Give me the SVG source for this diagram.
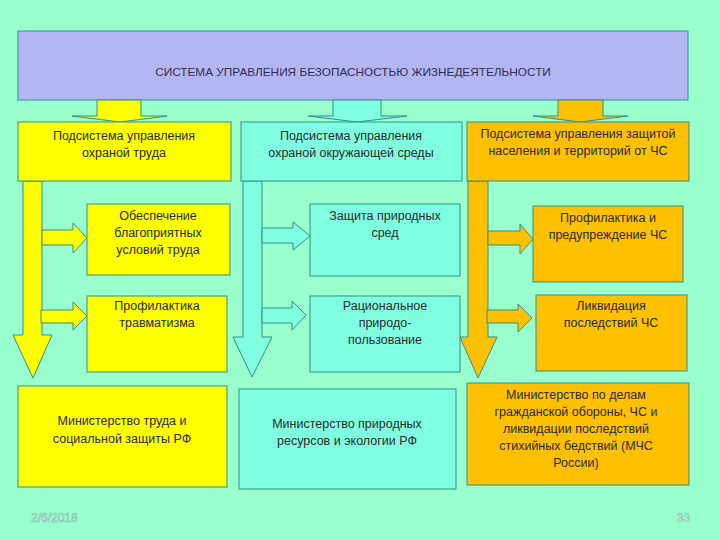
<svg xmlns="http://www.w3.org/2000/svg" width="720" height="540" viewBox="0 0 720 540">
<style>
.t{font-family:"Liberation Sans",Arial,sans-serif;font-size:12.5px;fill:#2a2a2a;text-anchor:middle}
.title{font-family:"Liberation Sans",Arial,sans-serif;font-size:11.8px;fill:#2e2e55;text-anchor:middle}
.box{stroke:#2f8f8f;stroke-width:1}
.y{fill:#FFFF00}
.a{fill:#80FFE0}
.o{fill:#FFC000}
.arr{stroke:#2f8f8f;stroke-width:1}
.foot{font-family:"Liberation Sans",Arial,sans-serif;font-size:12px;fill:#E4F4EC;stroke:#7aa;stroke-width:0.5}
</style>
<rect width="720" height="540" fill="#99FFCC"/>
<g id="title">
<rect x="18" y="31" width="670" height="69" fill="#B4B6F4" class="box"/>
<text class="title" x="353" y="76">СИСТЕМА УПРАВЛЕНИЯ БЕЗОПАСНОСТЬЮ ЖИЗНЕДЕЯТЕЛЬНОСТИ</text>
</g>
<g id="connectors">
<path class="arr y" d="M97,100 H141 V116 H167 L120,122 L72,116 H97 Z"/>
<path class="arr a" d="M333,100 H381 V116 H407 L357,122 L308,116 H333 Z"/>
<path class="arr o" d="M558,100 H603 V116 H628 L580,122 L533,116 H558 Z"/>
<path class="arr y" d="M23,181 H42 V335 H52 L33,378 L13,335 H23 Z"/>
<path class="arr a" d="M243,181 H262 V337 H272 L252,377 L233,337 H243 Z"/>
<path class="arr o" d="M468,181 H488 V337 H497 L478,378 L460,337 H468 Z"/>
<path class="arr y" d="M42,230 H73 V223 L87,238 L73,253 V245 H42 Z"/>
<path class="arr y" d="M41,310 H73 V302 L87,316 L73,330 V323 H41 Z"/>
<path class="arr a" d="M262,228 H293 V222 L310,236 L293,250 V243 H262 Z"/>
<path class="arr a" d="M262,308 H292 V301 L306,315 L292,330 V323 H262 Z"/>
<path class="arr o" d="M488,231 H520 V224 L533,239 L520,254 V245 H488 Z"/>
<path class="arr o" d="M487,310 H518 V304 L532,318 L518,332 V323 H487 Z"/>
</g>
<g id="sub1">
<rect x="18" y="122" width="213" height="59" class="box y"/>
<text class="t" x="124" y="140">Подсистема управления</text>
<text class="t" x="124" y="157">охраной труда</text>
</g>
<g id="sub2">
<rect x="241" y="122" width="221" height="59" class="box a"/>
<text class="t" x="351" y="140">Подсистема управления</text>
<text class="t" x="351" y="157">охраной окружающей среды</text>
</g>
<g id="sub3">
<rect x="467" y="122" width="222" height="59" class="box o"/>
<text class="t" x="578" y="138">Подсистема управления защитой</text>
<text class="t" x="578" y="155">населения и территорий от ЧС</text>
</g>
<g id="n1">
<rect x="87" y="204" width="143" height="71" class="box y"/>
<text class="t" x="158" y="220">Обеспечение</text>
<text class="t" x="158" y="237">благоприятных</text>
<text class="t" x="158" y="254">условий труда</text>
</g>
<g id="n2">
<rect x="87" y="296" width="140" height="76" class="box y"/>
<text class="t" x="157" y="310">Профилактика</text>
<text class="t" x="157" y="327">травматизма</text>
</g>
<g id="n3">
<rect x="310" y="204" width="150" height="72" class="box a"/>
<text class="t" x="385" y="220">Защита природных</text>
<text class="t" x="385" y="237">сред</text>
</g>
<g id="n4">
<rect x="310" y="296" width="150" height="76" class="box a"/>
<text class="t" x="385" y="310">Рациональное</text>
<text class="t" x="385" y="327">природо-</text>
<text class="t" x="385" y="344">пользование</text>
</g>
<g id="n5">
<rect x="533" y="206" width="150" height="76" class="box o"/>
<text class="t" x="608" y="222">Профилактика и</text>
<text class="t" x="608" y="239">предупреждение ЧС</text>
</g>
<g id="n6">
<rect x="536" y="295" width="151" height="76" class="box o"/>
<text class="t" x="611" y="310">Ликвидация</text>
<text class="t" x="611" y="327">последствий ЧС</text>
</g>
<g id="m1">
<rect x="18" y="386" width="209" height="101" class="box y"/>
<text class="t" x="122" y="425">Министерство труда и</text>
<text class="t" x="122" y="443">социальной защиты РФ</text>
</g>
<g id="m2">
<rect x="239" y="389" width="217" height="100" class="box a"/>
<text class="t" x="347" y="428">Министерство природных</text>
<text class="t" x="347" y="445">ресурсов и экологии РФ</text>
</g>
<g id="m3">
<rect x="467" y="383" width="222" height="102" class="box o"/>
<text class="t" x="576" y="399">Министерство по делам</text>
<text class="t" x="576" y="416">гражданской обороны, ЧС и</text>
<text class="t" x="576" y="433">ликвидации последствий</text>
<text class="t" x="576" y="450">стихийных бедствий (МЧС</text>
<text class="t" x="576" y="467">России)</text>
</g>
<g id="footer">
<text class="foot" x="31" y="522">2/6/2018</text>
<text class="foot" x="690" y="522" text-anchor="end">33</text>
</g>
</svg>
